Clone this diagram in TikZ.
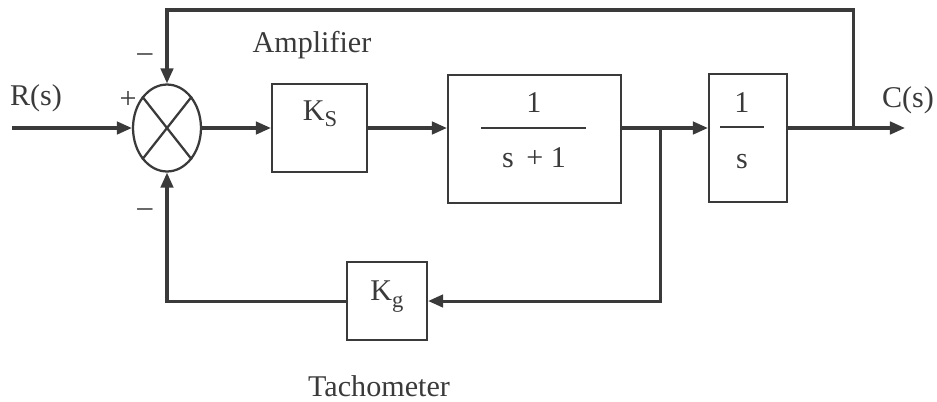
\documentclass[tikz,border=0pt]{standalone}
\usepackage{fontspec}
\setmainfont{Liberation Serif}
\usetikzlibrary{arrows.meta,shapes.geometric,calc}
\usepackage{xcolor}
\definecolor{Ink}{HTML}{3A3A3A}

\begin{document}
\begin{tikzpicture}[
    x=0.014cm, y=-0.014cm,
    blk/.style={draw=Ink, line width=0.9pt, inner sep=0pt},
    sumnode/.style={draw=Ink, ellipse, line width=0.9pt, inner sep=0pt,
                minimum width=0.952cm, minimum height=1.218cm},
    sig/.style={draw=Ink, line width=1.2pt, -{Triangle[length=6pt,width=5pt]}},
    bar/.style={draw=Ink, line width=0.9pt},
    lbl/.style={text=Ink, font=\fontsize{12}{14}\selectfont, inner sep=0pt}
  ]
    \useasboundingbox (0,0) rectangle (937,401);

    % blocks
    \node[sumnode] (sum) at (167,128) {};
    \node[blk, minimum width=1.33cm,  minimum height=1.232cm] (ks)    at (319.5,128) {};
    \node[blk, minimum width=2.422cm, minimum height=1.792cm] (plant) at (534.5,139) {};
    \node[blk, minimum width=1.092cm, minimum height=1.792cm] (integ) at (748,138) {};
    \node[blk, minimum width=1.12cm,  minimum height=1.092cm] (kg)    at (387,301) {};
    \draw[bar] (sum.north west) -- (sum.south east);
    \draw[bar] (sum.north east) -- (sum.south west);

    % texts
    \node[lbl] (ksl)  at (320,114) {K\raisebox{-0.4ex}{\fontsize{9}{10}\selectfont S}};
    \node[lbl] (kgl)  at (387,297) {K\raisebox{-0.5ex}{\fontsize{9}{10}\selectfont g}};
    \node[lbl] (pnum) at (534,103) {1};
    \node[lbl] (pden) at (534,158) {s\, + 1};
    \draw[bar] (481,128) coordinate (pb1) -- (586,128) coordinate (pb2);
    \node[lbl] (inum) at (742,103) {1};
    \node[lbl] (iden) at (742,162) {s};
    \draw[bar] (720,127) coordinate (ib1) -- (764,127) coordinate (ib2);
    \node[lbl] (rs)   at (36,98)   {R(s)};
    \node[lbl] (cs)   at (908,100) {C(s)};
    \node[lbl] (amp)  at (312,45)  {Amplifier};
    \node[lbl] (tach) at (379,386) {Tachometer};
    \node[lbl] (plus) at (128,100) {+};
    \node[lbl] (mtop) at (145,58)  {--};
    \node[lbl] (mbot) at (145,213) {--};

    % connectors
    \coordinate (in)  at (12,128);
    \coordinate (out) at (905,128);
    \coordinate (br)  at (660,128);
    \coordinate (tap) at (853,128);
    \draw[sig] (in) -- (sum.west);
    \draw[sig] (sum.east) -- (ks.west);
    \draw[sig] (ks.east) -- (ks.east -| plant.west);
    \draw[sig] (plant.east |- ks) -- (integ.west |- ks);
    \draw[sig] (integ.east |- ks) -- (out);
    \draw[sig] (br) |- (kg.east);
    \draw[sig] (kg.west) -| (sum.south);
    \draw[sig] (tap) -- ++(0,-118) -| (sum.north);
  \end{tikzpicture}
\end{document}
